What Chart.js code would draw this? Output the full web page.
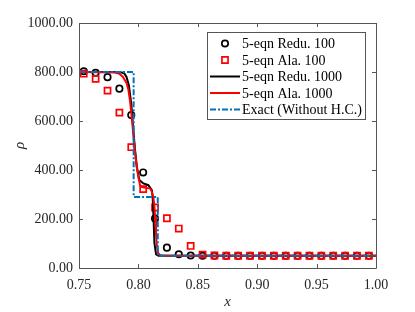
<!DOCTYPE html>
<html>
<head>
<meta charset="utf-8">
<script src="https://cdn.jsdelivr.net/npm/chart.js@4/dist/chart.umd.min.js"></script>
<style>
  html, body { margin: 0; padding: 0; background: #fff; }
  #wrap { width: 415px; height: 312px; position: relative; }
</style>
</head>
<body>
<div id="wrap"><canvas id="rhochart"></canvas></div>
<script>
// marker data (100 cells)
var xCells = [0.754, 0.764, 0.774, 0.784, 0.794, 0.804, 0.814, 0.824, 0.834, 0.844,
              0.854, 0.864, 0.874, 0.884, 0.894, 0.904, 0.914, 0.924, 0.934, 0.944,
              0.954, 0.964, 0.974, 0.984, 0.994];
var redu100 = [803, 797, 779, 732, 624, 390, 202, 83, 56, 51,
               50, 50, 50, 50, 50, 50, 50, 50, 50, 50,
               50, 50, 50, 50, 50];
var ala100 = [793, 772, 724, 634, 493, 322, 247, 203, 161, 90,
              55, 51, 50, 50, 50, 50, 50, 50, 50, 50,
              50, 50, 50, 50, 50];

// line data (1000 cells)
var xRedu1000 = [0.75, 0.78, 0.785, 0.788, 0.790, 0.792, 0.794, 0.7955, 0.797, 0.7987,
                 0.8008, 0.8042, 0.8084, 0.8113, 0.812, 0.8126, 0.8135, 0.8149, 0.817, 1.0];
var redu1000 = [800, 800, 799, 795, 780, 745, 670, 580, 490, 413,
                359, 345, 338, 318, 290, 223, 100, 56, 50, 50];
var xAla1000 = [0.75, 0.78, 0.784, 0.787, 0.790, 0.7915, 0.793, 0.7945, 0.796, 0.797,
                0.7985, 0.8, 0.8014, 0.803, 0.806, 0.8098, 0.811, 0.8126, 0.8135, 0.814,
                0.8148, 0.8155, 0.8165, 0.8183, 0.821, 1.0];
var ala1000 = [800, 798, 793, 780, 755, 730, 680, 610, 530, 480,
               415, 370, 338, 330, 327, 325, 315, 290, 250, 209,
               140, 93, 62, 52, 50, 50];
var xExact = [0.75, 0.796, 0.796, 0.8163, 0.8163, 1.0];
var exact = [800, 800, 290, 290, 50, 50];

var labels = ['5-eqn Redu. 100', '5-eqn Ala. 100', '5-eqn Redu. 1000', '5-eqn Ala. 1000', 'Exact (Without H.C.)'];
var xTicks = [0.75, 0.80, 0.85, 0.90, 0.95, 1.00];
var yTicks = [0, 200, 400, 600, 800, 1000];

function pts(xs, ys) {
  return xs.map(function(x, i) { return { x: x, y: ys[i] }; });
}

var serif = "'Liberation Serif', 'DejaVu Serif', serif";
var axisColor = '#555';
var textColor = '#262626';

// frame with inward ticks on all sides + legend box
var framePlugin = {
  id: 'frame',
  afterDatasetsDraw: function(chart) {
    var ctx = chart.ctx, a = chart.chartArea;
    var xs = chart.scales.x, ys = chart.scales.y;
    ctx.save();
    ctx.strokeStyle = axisColor;
    ctx.lineWidth = 1;
    ctx.beginPath();
    ctx.rect(Math.round(a.left) + 0.5, Math.round(a.top) + 0.5,
             Math.round(a.right - a.left), Math.round(a.bottom - a.top));
    xTicks.forEach(function(v) {
      var px = Math.round(xs.getPixelForValue(v)) + 0.5;
      ctx.moveTo(px, a.bottom); ctx.lineTo(px, a.bottom - 4);
      ctx.moveTo(px, a.top); ctx.lineTo(px, a.top + 4);
    });
    yTicks.forEach(function(v) {
      var py = Math.round(ys.getPixelForValue(v)) + 0.5;
      ctx.moveTo(a.left, py); ctx.lineTo(a.left + 4, py);
      ctx.moveTo(a.right, py); ctx.lineTo(a.right - 4, py);
    });
    ctx.stroke();

    // legend
    var bx = 207.5, by = 32.5, bw = 158, bh = 87;
    ctx.fillStyle = '#fff';
    ctx.fillRect(bx, by, bw, bh);
    ctx.strokeStyle = axisColor;
    ctx.strokeRect(bx, by, bw, bh);
    ctx.font = '14px ' + serif;
    ctx.textBaseline = 'middle';
    ctx.textAlign = 'left';
    chart.data.datasets.forEach(function(ds, i) {
      var cy = 43.5 + i * 16.5;
      ctx.save();
      if (ds.showLine) {
        ctx.strokeStyle = ds.borderColor;
        ctx.lineWidth = ds.borderWidth;
        ctx.setLineDash(ds.borderDash || []);
        ctx.beginPath();
        ctx.moveTo(210, cy); ctx.lineTo(240, cy);
        ctx.stroke();
      } else {
        ctx.strokeStyle = ds.pointBorderColor;
        ctx.lineWidth = ds.pointBorderWidth;
        ctx.beginPath();
        if (ds.pointStyle === 'circle') {
          ctx.arc(225, cy, ds.pointRadius, 0, Math.PI * 2);
        } else {
          var s = ds.pointRadius * Math.SQRT1_2;
          ctx.rect(225 - s, cy - s, 2 * s, 2 * s);
        }
        ctx.stroke();
      }
      ctx.restore();
      ctx.fillStyle = '#000';
      ctx.fillText(labels[i], 242, cy + 1);
    });
    ctx.restore();
  }
};

new Chart(document.getElementById('rhochart'), {
  type: 'scatter',
  data: {
    datasets: [
      {
        label: labels[0],
        data: pts(xCells, redu100),
        showLine: false,
        pointStyle: 'circle',
        pointRadius: 3.2,
        pointBorderWidth: 1.7,
        pointBorderColor: '#000',
        pointBackgroundColor: 'rgba(0,0,0,0)',
        order: 4
      },
      {
        label: labels[1],
        data: pts(xCells, ala100),
        showLine: false,
        pointStyle: 'rect',
        pointRadius: 4.3,
        pointBorderWidth: 1.7,
        pointBorderColor: '#ff0000',
        pointBackgroundColor: 'rgba(0,0,0,0)',
        order: 3
      },
      {
        label: labels[2],
        data: pts(xRedu1000, redu1000),
        showLine: true,
        borderColor: '#000',
        borderWidth: 2,
        pointRadius: 0,
        tension: 0,
        order: 2
      },
      {
        label: labels[3],
        data: pts(xAla1000, ala1000),
        showLine: true,
        borderColor: '#ff0000',
        borderWidth: 2,
        pointRadius: 0,
        tension: 0,
        order: 1
      },
      {
        label: labels[4],
        data: pts(xExact, exact),
        showLine: true,
        borderColor: '#0072BD',
        borderWidth: 2,
        borderDash: [6, 2, 2, 2],
        pointRadius: 0,
        tension: 0,
        order: 0
      }
    ]
  },
  options: {
    responsive: true,
    maintainAspectRatio: false,
    animation: false,
    layout: { padding: { left: 0, right: 39, top: 23, bottom: 0 } },
    plugins: {
      legend: { display: false },
      tooltip: { enabled: false }
    },
    scales: {
      x: {
        type: 'linear',
        min: 0.75,
        max: 1.0,
        afterBuildTicks: function(s) { s.ticks = xTicks.map(function(v) { return { value: v }; }); },
        afterFit: function(s) { s.height = 44; },
        grid: { display: false, drawTicks: false },
        border: { display: false },
        ticks: {
          padding: 9,
          maxRotation: 0,
          color: textColor,
          font: { family: serif, size: 14 },
          callback: function(v) { return Number(v).toFixed(2); }
        },
        title: {
          display: true,
          text: 'x',
          color: textColor,
          padding: { top: 0, bottom: 1 },
          font: { family: serif, size: 15, style: 'italic' }
        }
      },
      y: {
        type: 'linear',
        min: 0,
        max: 1000,
        afterBuildTicks: function(s) { s.ticks = yTicks.map(function(v) { return { value: v }; }); },
        afterFit: function(s) { s.width = 79; },
        grid: { display: false, drawTicks: false },
        border: { display: false },
        ticks: {
          padding: 6,
          color: textColor,
          font: { family: serif, size: 14 },
          callback: function(v) { return Number(v).toFixed(2); }
        },
        title: {
          display: true,
          text: 'ρ',
          color: textColor,
          padding: { top: 11, bottom: 0 },
          font: { family: serif, size: 15, style: 'italic' }
        }
      }
    }
  },
  plugins: [framePlugin]
});
</script>
</body>
</html>
